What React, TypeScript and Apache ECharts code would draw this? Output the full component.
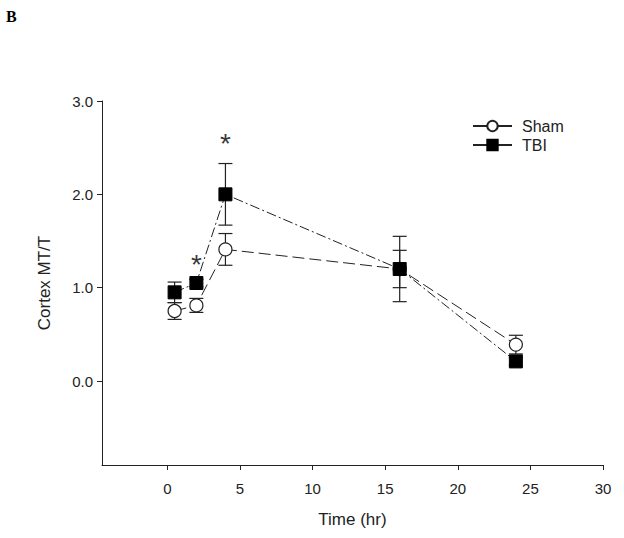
import React, { useEffect, useRef } from "react";
import * as echarts from "echarts";

const timePoints = [0.5, 2, 4, 16, 24];
const shamMean = [0.75, 0.81, 1.41, 1.2, 0.39];
const shamErr = [0.09, 0.075, 0.17, 0.2, 0.1];
const tbiMean = [0.95, 1.05, 2.0, 1.2, 0.21];
const tbiErr = [0.11, 0.04, 0.33, 0.35, 0.04];
const starX = [2, 4];
const starY = [1.33, 2.63];
const xTicks = [0, 5, 10, 15, 20, 25, 30];
const yTicks = [0, 1, 2, 3];

const FONT = "Liberation Sans, Arial, sans-serif";
const INK = "#222";

function errorSeries(name: string, means: number[], errs: number[]) {
  return {
    type: "custom",
    name: name + "-err",
    silent: true,
    z: 2,
    data: timePoints.map((t, i) => [t, means[i] - errs[i], means[i] + errs[i]]),
    renderItem: (params: any, api: any) => {
      const x = api.value(0);
      const lo = api.coord([x, api.value(1)]);
      const hi = api.coord([x, api.value(2)]);
      const cap = 7;
      const style = { stroke: INK, lineWidth: 1.2 };
      return {
        type: "group",
        children: [
          { type: "line", shape: { x1: lo[0], y1: lo[1], x2: hi[0], y2: hi[1] }, style },
          { type: "line", shape: { x1: lo[0] - cap, y1: lo[1], x2: lo[0] + cap, y2: lo[1] }, style },
          { type: "line", shape: { x1: hi[0] - cap, y1: hi[1], x2: hi[0] + cap, y2: hi[1] }, style },
        ],
      };
    },
  };
}

export default function App() {
  const ref = useRef<HTMLDivElement>(null);
  useEffect(() => {
    if (!ref.current) return;
    const chart = echarts.init(ref.current, null, { renderer: "svg" });
    chart.setOption({
      animation: false,
      backgroundColor: "#fff",
      textStyle: { fontFamily: FONT },
      graphic: [
        {
          type: "text",
          left: 6,
          top: 8,
          style: { text: "B", font: "bold 16px 'Liberation Serif', serif", fill: "#000" },
        },
      ],
      legend: {
        orient: "vertical",
        left: 472,
        top: 118,
        padding: 0,
        itemWidth: 39,
        itemHeight: 13,
        itemGap: 3,
        data: ["Sham", "TBI"],
        lineStyle: { type: "solid" },
        textStyle: { fontSize: 16, color: INK, fontFamily: FONT, padding: [0, 0, 0, 5] },
      },
      grid: { left: 102, right: 21, top: 101, bottom: 73, containLabel: false },
      xAxis: {
        type: "value",
        min: -4.5,
        max: 30,
        name: "Time (hr)",
        nameLocation: "middle",
        nameGap: 46,
        nameTextStyle: { fontSize: 17, color: INK, fontFamily: FONT },
        axisLine: { show: true, onZero: false, lineStyle: { color: INK, width: 1 } },
        axisTick: { show: true, customValues: xTicks, length: 5, lineStyle: { color: INK } },
        axisLabel: { customValues: xTicks, fontSize: 15, color: INK, margin: 16, fontFamily: FONT },
        splitLine: { show: false },
      },
      yAxis: {
        type: "value",
        min: -0.9,
        max: 3,
        name: "Cortex MT/T",
        nameLocation: "middle",
        nameGap: 49,
        nameTextStyle: { fontSize: 17, color: INK, fontFamily: FONT },
        axisLine: { show: true, onZero: false, lineStyle: { color: INK, width: 1 } },
        axisTick: { show: true, customValues: yTicks, length: 5, lineStyle: { color: INK } },
        axisLabel: {
          customValues: yTicks,
          fontSize: 15,
          color: INK,
          margin: 9,
          fontFamily: FONT,
          formatter: (v: number) => v.toFixed(1),
        },
        splitLine: { show: false },
      },
      series: [
        errorSeries("Sham", shamMean, shamErr),
        errorSeries("TBI", tbiMean, tbiErr),
        {
          type: "line",
          name: "Sham",
          z: 3,
          data: timePoints.map((t, i) => [t, shamMean[i]]),
          symbol: "circle",
          symbolSize: 13,
          showAllSymbol: true,
          lineStyle: { color: INK, width: 1, type: [12, 5] },
          itemStyle: { color: "#fff", borderColor: INK, borderWidth: 1.2 },
        },
        {
          type: "line",
          name: "TBI",
          z: 4,
          data: timePoints.map((t, i) => [t, tbiMean[i]]),
          symbol: "rect",
          symbolSize: 13,
          showAllSymbol: true,
          lineStyle: { color: INK, width: 1, type: [10, 3, 2, 3] },
          itemStyle: { color: "#000", borderColor: "#000", borderWidth: 1 },
        },
        {
          type: "scatter",
          name: "sig",
          z: 5,
          silent: true,
          symbolSize: 1,
          itemStyle: { color: "transparent" },
          data: starX.map((x, i) => [x, starY[i]]),
          label: {
            show: true,
            position: "inside",
            formatter: "*",
            fontSize: 28,
            color: "#000",
            fontFamily: FONT,
            offset: [0, 8],
          },
        },
      ],
    });
    return () => chart.dispose();
  }, []);
  return (
    <div
      ref={ref}
      style={{ position: "absolute", left: 0, top: 0, width: 624, height: 538 }}
    />
  );
}
